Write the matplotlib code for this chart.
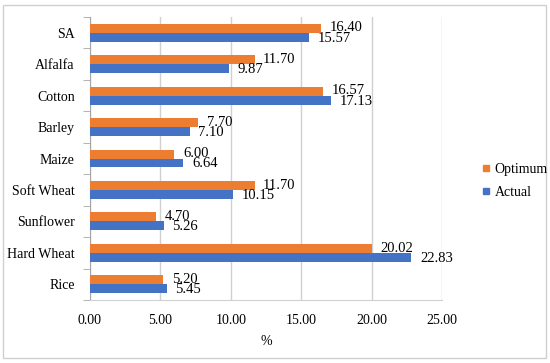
import matplotlib.pyplot as plt
import numpy as np
from matplotlib.patches import Rectangle
from matplotlib.lines import Line2D

crops = ['Rice', 'Hard Wheat', 'Sunflower', 'Soft Wheat', 'Maize', 'Barley', 'Cotton', 'Alfalfa', 'SA']
actual = [5.45, 22.83, 5.26, 10.15, 6.64, 7.10, 17.13, 9.87, 15.57]
optimum = [5.20, 20.02, 4.70, 11.70, 6.00, 7.70, 16.57, 11.70, 16.40]

plt.rcParams['font.family'] = ['Liberation Serif', 'DejaVu Serif']

fig = plt.figure(figsize=(5.5, 3.63), dpi=100)
ax = fig.add_axes([90/550, 1-300/363, 352/550, 283/363])

# outer border
fig.patches.append(Rectangle((3/550, 5/363), 543/550, 353/363, transform=fig.transFigure,
                             fill=False, edgecolor='#d0d0d0', linewidth=1))

y = np.arange(len(crops))
h = 0.285
blue = '#4472C4'
orange = '#ED7D31'
ax.barh(y - h/2, actual, height=h, color=blue, zorder=3)
ax.barh(y + h/2, optimum, height=h, color=orange, zorder=3)

for i in range(len(crops)):
    ax.text(actual[i] + 0.6, y[i] - h/2 - 0.03, '%.2f' % actual[i], va='center', ha='left', fontsize=10.5, zorder=4)
    ax.text(optimum[i] + 0.6, y[i] + h/2 + 0.01, '%.2f' % optimum[i], va='center', ha='left', fontsize=10.5, zorder=4)

ax.set_xlim(0, 25)
ax.set_ylim(-0.5, len(crops) - 0.5)
ax.set_xticks([0, 5, 10, 15, 20, 25])
ax.set_xticklabels(['%.2f' % v for v in [0, 5, 10, 15, 20, 25]], fontsize=10)
ax.set_yticks(y)
ax.set_yticklabels(crops, fontsize=10)
ax.set_yticks(np.arange(len(crops) + 1) - 0.5, minor=True)
ax.tick_params(axis='y', which='major', length=0, pad=11)
ax.tick_params(axis='y', which='minor', length=5, color='#a6a6a6', direction='out')
ax.tick_params(axis='x', length=0, pad=10)
ax.grid(axis='x', color='#d0d0d0', linewidth=1, zorder=0)
for s in ['top', 'right']:
    ax.spines[s].set_visible(False)
ax.spines['bottom'].set_color('#d0d0d0')
ax.spines['left'].set_color('#a6a6a6')
ax.set_xlabel('%', fontsize=10, labelpad=6)

handles = [Line2D([], [], marker='s', linestyle='', color=orange, markersize=5),
           Line2D([], [], marker='s', linestyle='', color=blue, markersize=5)]
fig.legend(handles, ['Optimum', 'Actual'], loc='center left', bbox_to_anchor=(468/550, 1-181/363),
           frameon=False, fontsize=10, handletextpad=0.2, labelspacing=0.7, handlelength=0.8)

plt.savefig('out.png', dpi=100)
